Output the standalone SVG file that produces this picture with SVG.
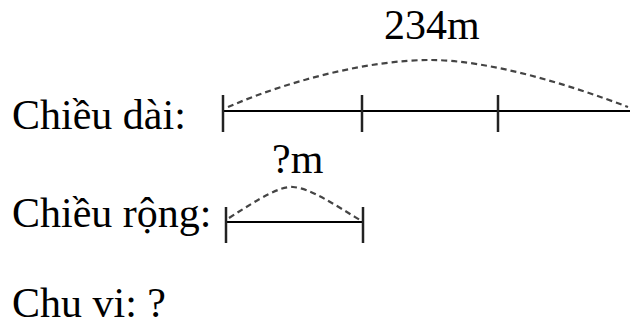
<svg xmlns="http://www.w3.org/2000/svg" width="630" height="328" viewBox="0 0 630 328">
<style>
.t{font-family:"Liberation Serif","Times New Roman",serif;font-size:42px;fill:#000}
.seg{stroke:#000;stroke-width:2;fill:none}
.tick{stroke:#222;stroke-width:2.5;fill:none}
.arc{stroke:#444;stroke-width:2.2;stroke-dasharray:6 4;fill:none}
</style>
<rect width="630" height="328" fill="#fff"/>
<g id="label-length"><text class="t" x="12" y="129">Chiều dài:</text></g>
<g id="label-width"><text class="t" x="12" y="227">Chiều rộng:</text></g>
<g id="label-perimeter"><text class="t" x="12" y="317">Chu vi: ?</text></g>
<g id="length-bar">
<line class="seg" x1="223" y1="111" x2="630" y2="111"/>
<line class="tick" x1="223" y1="95" x2="223" y2="132"/>
<line class="tick" x1="362" y1="95" x2="362" y2="132"/>
<line class="tick" x1="498" y1="95" x2="498" y2="132"/>
</g>
<g id="width-bar">
<line class="seg" x1="226" y1="222" x2="363" y2="222"/>
<line class="tick" x1="226" y1="207" x2="226" y2="243"/>
<line class="tick" x1="363" y1="207" x2="363" y2="243"/>
</g>
<g id="connectors">
<path class="arc" d="M228,107 C290,80 370,60 430,60 C490,60 570,85 628,107"/>
<path class="arc" d="M229,218 C260,198 280,186 293,187 C310,188 335,205 360,220"/>
</g>
<g id="label-234"><text class="t" x="384" y="39">234m</text></g>
<g id="label-qm"><text class="t" x="272" y="173">?m</text></g>
</svg>
